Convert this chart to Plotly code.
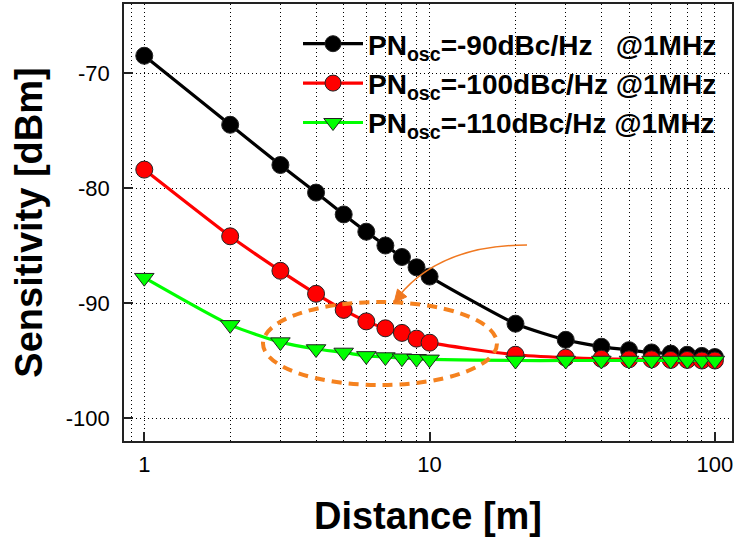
import numpy as np
import plotly.graph_objects as go

# ---- data ----
distance = [1, 2, 3, 4, 5, 6, 7, 8, 9, 10, 20, 30, 40, 50, 60, 70, 80, 90, 100]
sens_90 = [-68.5, -74.5, -78.0, -80.4, -82.3, -83.8, -85.0, -86.0, -86.9, -87.7,
           -91.8, -93.2, -93.8, -94.1, -94.3, -94.4, -94.5, -94.6, -94.7]
sens_100 = [-78.4, -84.2, -87.2, -89.2, -90.6, -91.6, -92.2, -92.6, -93.1, -93.45,
            -94.5, -94.75, -94.85, -94.9, -94.9, -94.95, -94.95, -95.0, -95.0]
sens_110 = [-87.8, -91.9, -93.4, -94.0, -94.3, -94.6, -94.7, -94.8, -94.85, -94.9,
            -95.0, -95.0, -95.0, -95.0, -95.0, -95.0, -95.0, -95.0, -95.0]
labels = ["PN<sub>osc</sub>=-90dBc/Hz\u00a0\u00a0\u00a0@1MHz",
          "PN<sub>osc</sub>=-100dBc/Hz @1MHz",
          "PN<sub>osc</sub>=-110dBc/Hz @1MHz"]
x_ticks = [1, 10, 100]
x_minor = [0.9, 2, 3, 4, 5, 6, 7, 8, 9, 20, 30, 40, 50, 60, 70, 80, 90]
y_ticks = [-100, -90, -80, -70]

W, H = 734, 545
L, R, T, B = 124, 2, 4, 104
PW, PH = W - L - R, H - T - B


def px(x):
    return (x - L) / PW


def py(y):
    return (H - B - y) / PH


fig = go.Figure()
styles = [
    dict(color="#000000", symbol="circle"),
    dict(color="#ff0000", symbol="circle"),
    dict(color="#00ff00", symbol="triangle-down"),
]
for ys, lab, st in zip([sens_90, sens_100, sens_110], labels, styles):
    fig.add_trace(go.Scatter(
        x=distance, y=ys, name=lab, mode="lines+markers",
        line=dict(color=st["color"], width=3.2, shape="spline", smoothing=0.6),
        marker=dict(symbol=st["symbol"], size=17, color=st["color"],
                    line=dict(color="#222222", width=1)),
    ))

# dashed ellipse highlight
fig.add_shape(type="circle", xref="paper", yref="paper",
              x0=px(263), x1=px(497), y0=py(385), y1=py(302),
              line=dict(color="#f5821f", width=4, dash="10px,7px"), layer="above")

# curved arrow
p0 = (527, 245)
c = (440, 245)
p2 = (398, 297)
path = "M {},{} Q {},{} {},{}".format(px(p0[0]), py(p0[1]), px(c[0]), py(c[1]),
                                      px(p2[0]), py(p2[1]))
fig.add_shape(type="path", xref="paper", yref="paper", path=path,
              line=dict(color="#f07820", width=1.5), layer="above")
tip = np.array([394.0, 303.0])
d = np.array([p2[0] - c[0], p2[1] - c[1]], dtype=float)
d /= np.linalg.norm(d)
n = np.array([-d[1], d[0]])
base = tip - d * 13
b1 = base + n * 6
b2 = base - n * 6
head = "M {},{} L {},{} L {},{} Z".format(px(tip[0]), py(tip[1]), px(b1[0]), py(b1[1]),
                                          px(b2[0]), py(b2[1]))
fig.add_shape(type="path", xref="paper", yref="paper", path=head,
              line=dict(color="#f07820", width=1), fillcolor="#f07820", layer="above")

axis_common = dict(showline=True, mirror=True, linecolor="#222222", linewidth=1.5,
                   ticks="inside", ticklen=9, tickcolor="#222222", tickwidth=1.5,
                   showgrid=True, gridcolor="#000000", gridwidth=1, griddash="1px,3px",
                   zeroline=False,
                   tickfont=dict(family="Liberation Sans, Arial", size=22, color="#000000"))

fig.update_xaxes(type="log", range=[np.log10(0.849), np.log10(114.8)],
                 tickvals=x_ticks, ticktext=[str(v) for v in x_ticks],
                 ticklabelstandoff=3,
                 minor=dict(tickvals=x_minor, showgrid=True, gridcolor="#000000",
                            gridwidth=1, griddash="1px,3px", ticks=""),
                 title=dict(text="<b>Distance [m]</b>", standoff=26,
                            font=dict(family="Liberation Sans, Arial", size=38, color="#000000")),
                 **axis_common)
fig.update_yaxes(range=[-102.0, -64.0], tickvals=y_ticks,
                 ticktext=[str(v) for v in y_ticks],
                 ticklabelstandoff=8,
                 title=dict(text="<b>Sensitivity [dBm]</b>", standoff=12,
                            font=dict(family="Liberation Sans, Arial", size=38, color="#000000")),
                 **axis_common)

fig.update_layout(
    width=W, height=H,
    margin=dict(l=L, r=R, t=T, b=B, autoexpand=False),
    plot_bgcolor="white", paper_bgcolor="white",
    showlegend=True,
    legend=dict(x=px(298), y=py(19), xanchor="left", yanchor="top",
                bgcolor="rgba(0,0,0,0)", borderwidth=0, itemwidth=60,
                tracegroupgap=0,
                font=dict(family="Liberation Sans, Arial", size=28, color="#000000",
                          weight="bold")),
)

fig.write_html("out.html", config={"displayModeBar": False},
               post_script="document.body.style.margin='0';document.body.style.overflow='hidden';")
